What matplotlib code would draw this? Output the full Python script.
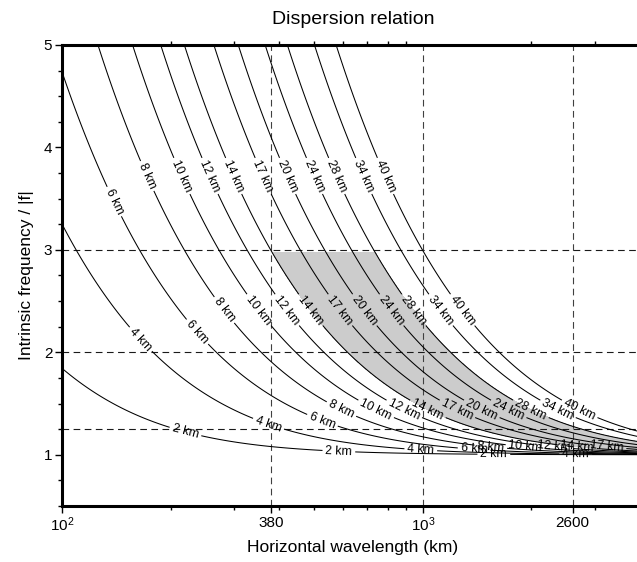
import numpy as np
import matplotlib.pyplot as plt
from matplotlib.ticker import FixedLocator, LogLocator, NullFormatter, MultipleLocator

plt.rcParams['font.family'] = ['Liberation Sans', 'DejaVu Sans']
plt.rcParams['mathtext.default'] = 'regular'

# Physical parameters of the dispersion relation
N = 0.01        # buoyancy frequency (rad/s)
f = 1.29e-4     # Coriolis parameter (rad/s)
H = 7.0         # density scale height (km)

# Vertical wavelengths that get a contour (km)
lz_levels = [2, 4, 6, 8, 10, 12, 14, 17, 20, 24, 28, 34, 40]

# Shaded band: vertical wavelengths 14-28 km, below 2.97 |f|
shade_lz = [14, 28]
shade_top = 2.97

# Reference lines
hlines = [3, 2, 1.25]
vlines = [380, 1000, 2600]

xticks = [100, 380, 1000, 2600]
xticklabels = ['$10^{2}$', '380', '$10^{3}$', '2600']
yticks = [1, 2, 3, 4, 5]

xlim = (100, 4100)
ylim = (0.5, 5)


def vertical_wavelength(lh, om):
    # omega^2 = (N^2 k^2 + f^2 (m^2 + 1/4H^2)) / (k^2 + m^2 + 1/4H^2), solved for m
    r2 = (N / f) ** 2
    k2 = (2 * np.pi / lh) ** 2
    with np.errstate(all='ignore'):
        M = k2 * (r2 - om ** 2) / (om ** 2 - 1)
        m2 = M - 1 / (4 * H ** 2)
        return np.where(m2 > 0, 2 * np.pi / np.sqrt(m2), np.nan)


fig = plt.figure(figsize=(6.37, 5.62), dpi=100)
ax = fig.add_axes([62 / 637, 56 / 562, 582 / 637, 461 / 562])
ax.set_xscale('log')
ax.set_xlim(xlim)
ax.set_ylim(ylim)

lh = np.geomspace(xlim[0], xlim[1], 900)
om = 1 + np.geomspace(1e-6, ylim[1] - 1, 900)
LH, OM = np.meshgrid(lh, om)
LZ = vertical_wavelength(LH, OM)

# shaded band
om_s = 1 + np.geomspace(1e-6, shade_top - 1, 600)
LHs, OMs = np.meshgrid(lh, om_s)
ax.contourf(LHs, OMs, vertical_wavelength(LHs, OMs), levels=shade_lz,
            colors=['#cccccc'], zorder=1)

for y in hlines:
    ax.axhline(y, color='0.1', lw=0.8, ls=(0, (6, 4)), zorder=2)
for x in vlines:
    ax.axvline(x, color='0.25', lw=0.8, ls=(0, (6, 4)), zorder=2)


def label_points(seg, first=140, step=155):
    # labels every `step` pixels along the curve, starting from its upper-left end
    if seg[0, 0] > seg[-1, 0]:
        seg = seg[::-1]
    pix = ax.transData.transform(seg)
    d = np.r_[0, np.cumsum(np.hypot(*np.diff(pix, axis=0).T))]
    targets = np.arange(first, d[-1] - 20, step)
    px = np.column_stack([np.interp(targets, d, pix[:, 0]),
                          np.interp(targets, d, pix[:, 1])])
    return [tuple(p) for p in ax.transData.inverted().transform(px)] if len(px) else []


for lev in lz_levels:
    cs = ax.contour(LH, OM, LZ, levels=[lev], colors='k', linewidths=0.75, zorder=3)
    pts = [p for seg in cs.allsegs[0] for p in label_points(seg)]
    if pts:
        ax.clabel(cs, manual=pts, inline=True, fontsize=8.8,
                  fmt=lambda v: f'{v:g} km', inline_spacing=3)

# axes styling
for s in ax.spines.values():
    s.set_linewidth(2.2)
ax.xaxis.set_major_locator(FixedLocator(xticks))
ax.set_xticklabels(xticklabels)
ax.xaxis.set_minor_locator(LogLocator(base=10, subs=np.arange(2, 10)))
ax.xaxis.set_minor_formatter(NullFormatter())
ax.yaxis.set_major_locator(FixedLocator(yticks))
ax.yaxis.set_minor_locator(MultipleLocator(0.25))
ax.tick_params(which='both', direction='out', width=1.0, labelsize=11, pad=2)
ax.tick_params(which='major', length=5)
ax.tick_params(which='minor', length=3, top=True)
ax.tick_params(axis='y', pad=2)

ax.set_title('Dispersion relation', fontsize=14, pad=15)
ax.set_xlabel('Horizontal wavelength (km)', fontsize=12.5, labelpad=4)
ax.set_ylabel('Intrinsic frequency / |f|', fontsize=12.5, labelpad=7)

fig.savefig('out.png', dpi=100)
